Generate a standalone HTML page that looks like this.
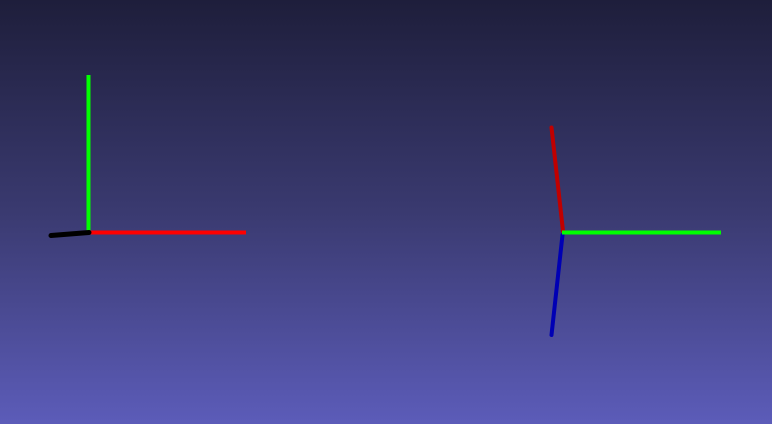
<!DOCTYPE html>
<html><head><meta charset="utf-8"><style>
html,body{margin:0;padding:0;width:772px;height:424px;overflow:hidden}
body{background:linear-gradient(to bottom,#1e1e3b 0%,#3a3a70 50%,#5c5cb9 100%)}
</style></head><body>
<svg width="772" height="424" style="position:absolute;left:0;top:0">
<g stroke-linecap="round">
<line x1="89" y1="232.5" x2="246" y2="232.5" stroke="#ff0000" stroke-width="4" stroke-linecap="butt"/>
<line x1="88.5" y1="75" x2="88.5" y2="232" stroke="#00ff00" stroke-width="4" stroke-linecap="butt"/>
<line x1="51" y1="235.5" x2="89" y2="232.5" stroke="#000000" stroke-width="5"/>
</g>
<g stroke-linecap="round">
<line x1="563" y1="231" x2="551.5" y2="127.5" stroke="#c00000" stroke-width="4"/>
<line x1="562.5" y1="235" x2="551.5" y2="335" stroke="#0000b4" stroke-width="4"/>
<line x1="562" y1="232.5" x2="721" y2="232.5" stroke="#00ff00" stroke-width="4" stroke-linecap="butt"/>
</g>
</svg>
</body></html>
